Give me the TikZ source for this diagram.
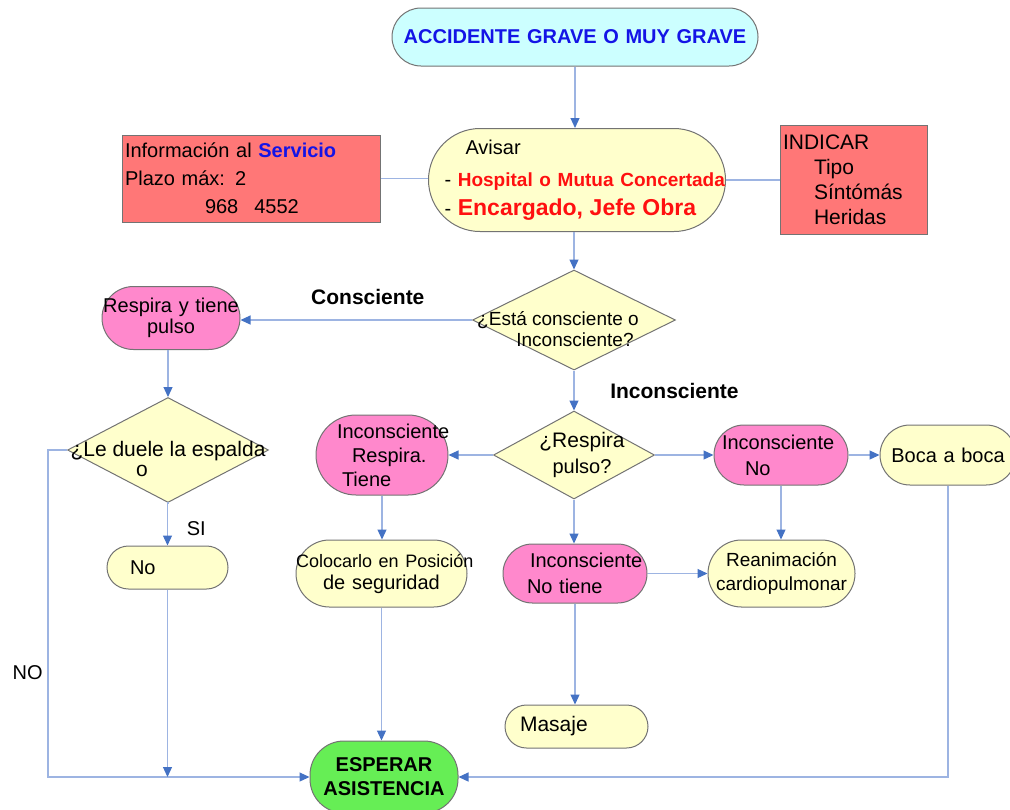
\documentclass[tikz,border=0pt]{standalone}
\usepackage{fontspec}
\setmainfont{Liberation Sans}
\usetikzlibrary{shapes.geometric,arrows.meta}

\definecolor{celeste}{HTML}{CCFFFF}
\definecolor{crema}{HTML}{FFFFCC}
\definecolor{rosa}{HTML}{FF88CC}
\definecolor{salmon}{HTML}{FF7777}
\definecolor{verde}{HTML}{66EE55}
\definecolor{linea}{HTML}{9DB4E2}
\definecolor{punta}{HTML}{4472C4}
\definecolor{azul}{HTML}{1414E6}
\definecolor{rojo}{HTML}{FF1010}

% diamond text: no width, shifted by #1 (x) and #2 (y)
\newcommand{\flowtxt}[3]{\makebox[0pt]{\kern#1\kern#1\raisebox{#2}[\height][\depth]{\begin{tabular}{@{}c@{}}#3\end{tabular}}}}

\tikzset{
  flowbox/.style n args={2}{draw=black!55, line width=0.5pt, inner sep=0pt,
    font=\fontsize{10}{12}\selectfont, minimum width=#1, text width=#1,
    minimum height=#2, align=center},
  pill/.style n args={3}{flowbox={#1}{#2}, rounded corners=#3},
  decision/.style n args={2}{draw=black!55, line width=0.5pt, inner sep=0pt,
    diamond, minimum width=#1, minimum height=#2, fill=crema},
  link/.style={draw=linea, line width=0.6pt},
  flecha/.style={link, -{Triangle[length=5pt,width=4.5pt,color=punta]}},
  lbl/.style={font=\fontsize{10}{12}\selectfont},
  lblb/.style={font=\fontsize{10.5}{12}\selectfont\bfseries}
}

\begin{document}
\begin{tikzpicture}[x=0.5pt,y=-0.5pt]
\useasboundingbox (0,0) rectangle (1010,809);

\node[pill={183pt}{29pt}{14.5pt}, fill=celeste, text=azul, font=\fontsize{10}{12}\selectfont\bfseries] (acc) at (575,37) {ACCIDENTE GRAVE O MUY GRAVE};

\node[pill={148.5pt}{51.5pt}{25.75pt}, fill=crema, align=left, font=\fontsize{10}{14.5}\selectfont] (avisar) at (577,180)
  {\hspace*{18.5pt}Avisar\\[1.5pt]
   \hspace*{8pt}- {\color{rojo}\bfseries\fontsize{9.5}{14.5}\selectfont Hospital o Mutua Concertada}\\
   \hspace*{8pt}- {\color{rojo}\bfseries\fontsize{11.5}{14.5}\selectfont Encargado, Jefe Obra}};

\node[flowbox={129pt}{43.5pt}, fill=salmon, align=left, font=\fontsize{10}{14}\selectfont] (info) at (251,178.5)
  {\hspace*{1.5pt}Información al {\color{azul}\bfseries Servicio}\\
   \hspace*{1.5pt}Plazo máx: 2\\
   \hspace*{41.5pt}968\hspace{8pt}4552};

\node[flowbox={73.5pt}{54.5pt}, fill=salmon, align=left, font=\fontsize{10.5}{12.5}\selectfont] (indicar) at (853.5,179.5)
  {\hspace*{1.5pt}INDICAR\\ \hspace*{17pt}Tipo\\ \hspace*{17pt}Síntómás\\ \hspace*{17pt}Heridas};

\node[decision={101.5pt}{50pt}, font=\fontsize{9.5}{10.5}\selectfont] (d1) at (574,320)
  {\flowtxt{-8pt}{-6pt}{¿Está consciente o\\\hspace*{17pt}Inconsciente?}};

\node[pill={69pt}{31.5pt}{15.75pt}, fill=rosa, font=\fontsize{10}{10.5}\selectfont] (resp) at (171,318) {\mbox{Respira y tiene}\\pulso};

\node[decision={100.5pt}{52.5pt}, font=\fontsize{10.5}{10}\selectfont] (d2) at (168,450)
  {\flowtxt{0pt}{-6pt}{¿Le duele la espalda\\o\hspace*{26pt}}};

\node[pill={60.5pt}{21.5pt}{10.75pt}, fill=crema, align=left] (no) at (167.5,567.5) {\hspace*{11.5pt}No};

\node[decision={80.5pt}{44pt}, font=\fontsize{10.5}{13}\selectfont] (d3) at (574,455)
  {\flowtxt{4pt}{0pt}{¿Respira\\{\fontsize{10}{13}\selectfont pulso?}}};

\node[pill={66pt}{40pt}{20pt}, fill=rosa, align=left] (irt) at (382,455)
  {\mbox{\hspace*{10.5pt}Inconsciente}\\ \hspace*{18pt}Respira.\\ \hspace*{13pt}Tiene};

\node[pill={85.5pt}{33.5pt}{16.75pt}, fill=crema, font=\fontsize{10}{11}\selectfont] (col) at (381.5,573.5)
  {\mbox{\fontsize{9}{11}\selectfont Colocarlo en Posición}\\de seguridad};

\node[pill={67pt}{30pt}{15pt}, fill=rosa, align=left, font=\fontsize{10}{13}\selectfont] (inn) at (781,455)
  {\hspace*{4pt}Inconsciente\\ \hspace*{15.5pt}No};

\node[pill={68pt}{30pt}{15pt}, fill=crema] (boca) at (948,455) {Boca a boca};

\node[pill={73.5pt}{33.5pt}{16.75pt}, fill=crema, font=\fontsize{9.5}{12}\selectfont] (rea) at (781.5,573.5)
  {Reanimación\\cardiopulmonar};

\node[pill={72pt}{29.5pt}{14.75pt}, fill=rosa, align=left, font=\fontsize{10}{13}\selectfont] (int) at (575,573.5)
  {\hspace*{13.5pt}Inconsciente\\ \hspace*{12pt}No tiene};

\node[pill={71.5pt}{21.5pt}{10.75pt}, fill=crema, align=left, font=\fontsize{10.5}{12}\selectfont] (mas) at (576.5,726.5)
  {\hspace*{7.5pt}Masaje};

\node[pill={74pt}{36pt}{17pt}, fill=verde, font=\fontsize{10}{12}\selectfont\bfseries] (esp) at (384,777)
  {ESPERAR\\ASISTENCIA};

% connectors
\draw[flecha] (acc.south) -- (acc.south |- avisar.north);
\draw[link] (info.east) -- (info.east -| avisar.west);
\draw[link] (avisar.east) -- (avisar.east -| indicar.west);
\draw[flecha] (d1.north |- avisar.south) -- (d1.north);
\draw[flecha] (d1.west) -- (d1.west -| resp.east)
  node[lblb, pos=0.45, above=4pt] {Consciente};
\draw[flecha] (d2.north |- resp.south) -- (d2.north);
\draw[flecha] (d2.south) -- (no.north |- d2.south) -- (no.north)
  node[lbl, midway, right=6pt, yshift=-2pt] {SI};
\draw[flecha] (d2.west) -- ++(-19,0) |- (esp.west)
  node[lbl, pos=0.34, left=-1pt] {NO};
\draw[flecha] (no.south) -- (no.south |- esp.west);
\draw[flecha] (d1.south) -- (d3.north)
  node[font=\fontsize{10.5}{12}\selectfont\bfseries, midway, right=14.5pt] {Inconsciente};
\draw[flecha] (d3.west) -- (irt.east);
\draw[flecha] (irt.south) -- (irt.south |- col.north);
\draw[flecha] (col.south) -- (col.south |- esp.north);
\draw[flecha] (d3.east) -- (inn.west);
\draw[flecha] (inn.east) -- (boca.west);
\draw[flecha] (inn.south) -- (inn.south |- rea.north);
\draw[flecha] (d3.south) -- (d3.south |- int.north);
\draw[flecha] (int.east) -- (rea.west);
\draw[flecha] (int.south) -- (int.south |- mas.north);
\draw[flecha] (boca.south) |- (esp.east);
\end{tikzpicture}
\end{document}
